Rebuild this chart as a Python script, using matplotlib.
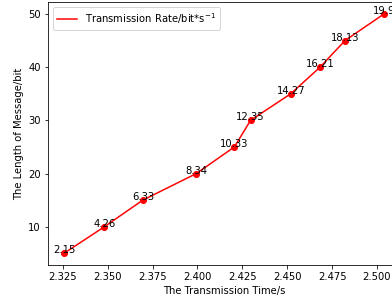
import matplotlib
matplotlib.use('Agg')
import matplotlib.pyplot as plt

# transmission time (s), message length (bit), rate labels
time_s = [2.3257, 2.3482, 2.3696, 2.3994, 2.4206, 2.4296, 2.4520, 2.4683, 2.4822, 2.5039]
length_bit = [5, 10, 15, 20, 25, 30, 35, 40, 45, 50]
rate_labels = ['2.15', '4.26', '6.33', '8.34', '10.33', '12.35', '14.27', '16.21', '18.13', '19.9']

DPI = 72
fig = plt.figure(figsize=(392 / DPI, 301 / DPI), dpi=DPI)
# the original image is cut off on the right, so the axes run past the edge
ax = fig.add_axes([0.1224, 0.1186, 0.898, 0.8748])

ax.plot(time_s, length_bit, color='red', label='Transmission Rate/bit*s$^{-1}$')
ax.plot(time_s, length_bit, 'o', color='red')
for x, y, t in zip(time_s, length_bit, rate_labels):
    ax.text(x, y, t, ha='center', va='baseline')

ax.set_xticks([2.325, 2.35, 2.375, 2.4, 2.425, 2.45, 2.475, 2.5])
ax.set_yticks([10, 20, 30, 40, 50])
ax.set_xlabel('The Transmission Time/s')
ax.set_ylabel('The Length of Message/bit')
ax.legend(loc='upper left')

fig.savefig('out.png', dpi=DPI)
